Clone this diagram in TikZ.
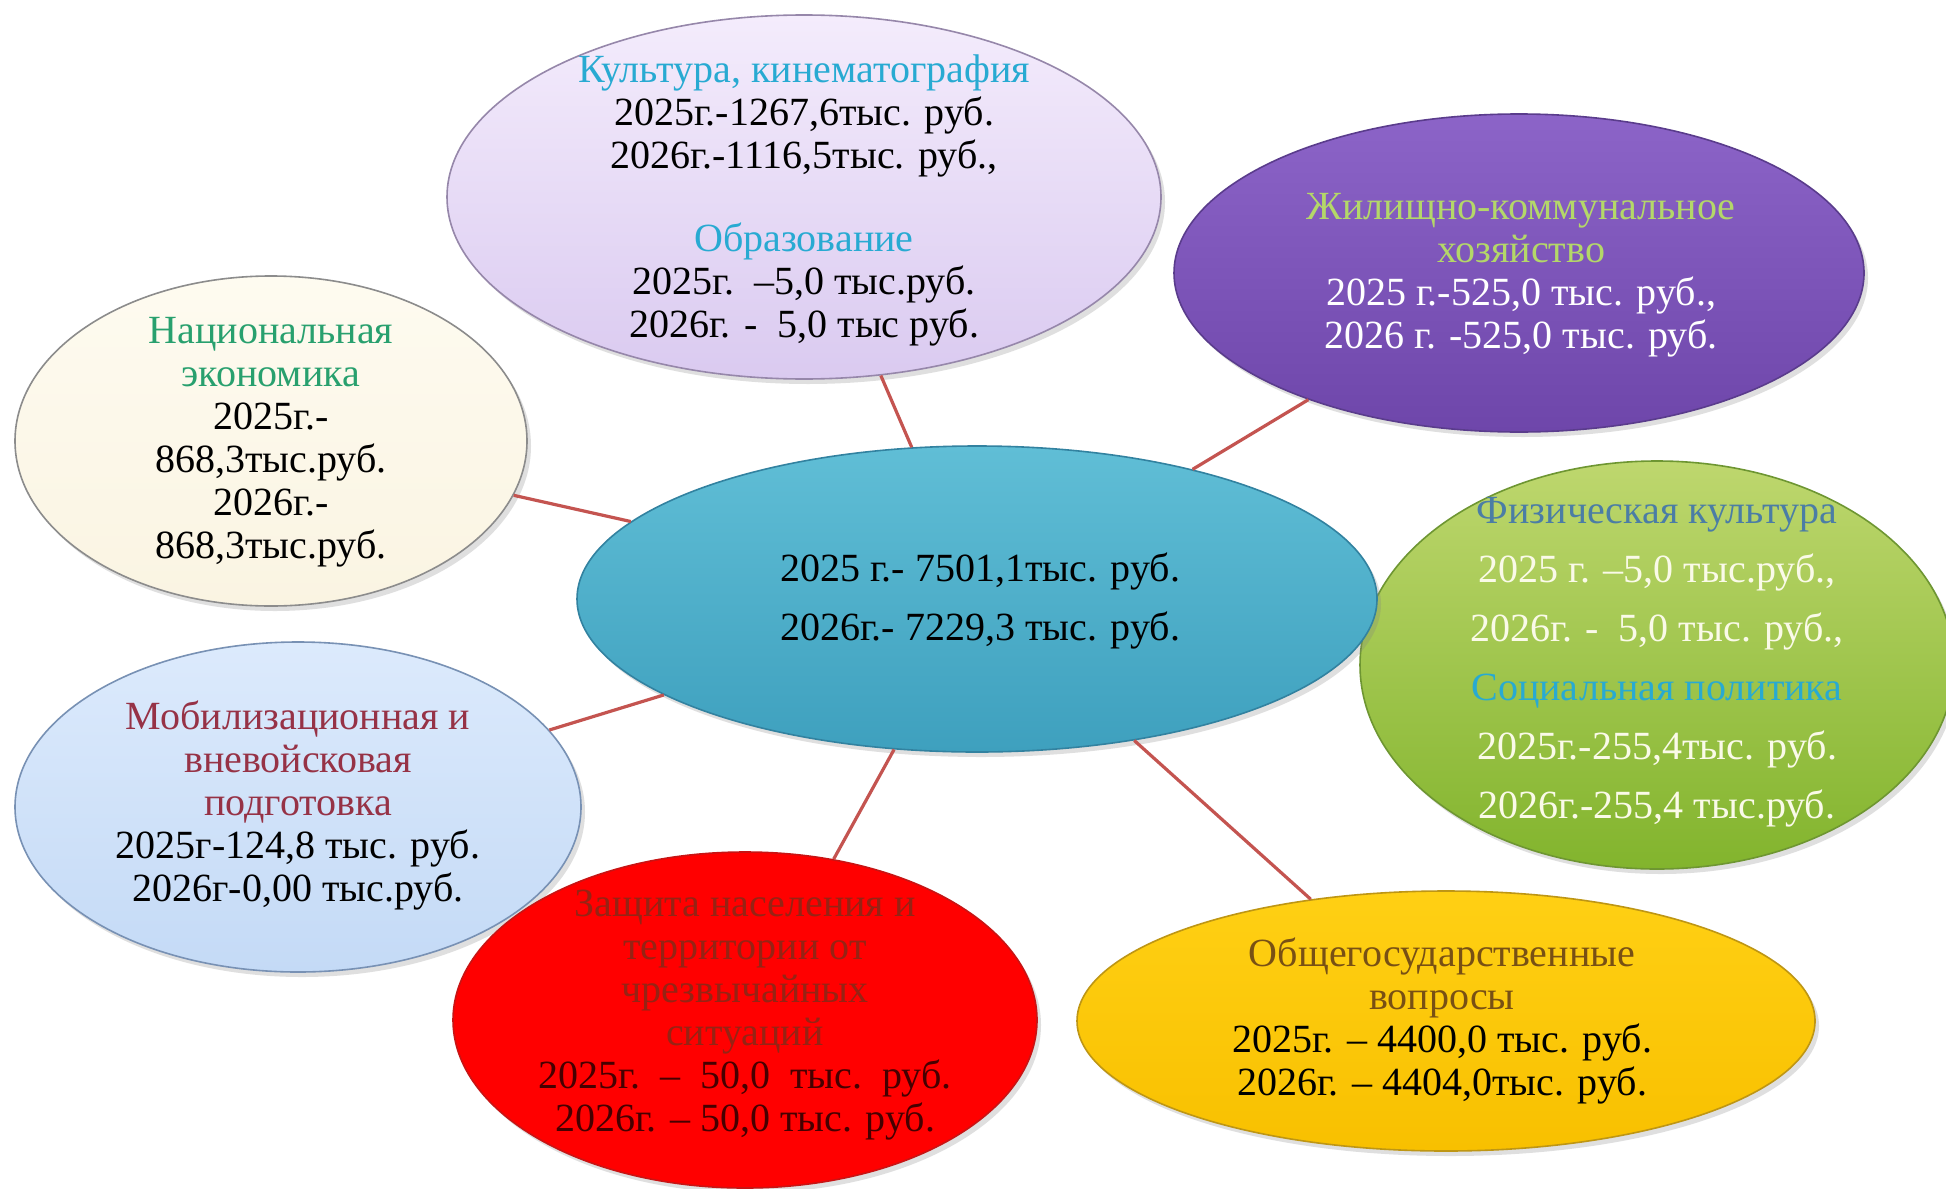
\documentclass[tikz,border=0pt]{standalone}
\usepackage{fontspec}
\setmainfont{Liberation Serif}
\usetikzlibrary{shapes.geometric,shadows}
\definecolor{linkred}{RGB}{196,84,80}
\definecolor{cenA}{RGB}{96,190,214}
\definecolor{cenB}{RGB}{62,160,190}
\definecolor{cenD}{RGB}{50,130,160}
\definecolor{lavA}{RGB}{244,236,252}
\definecolor{lavB}{RGB}{218,202,240}
\definecolor{lavD}{RGB}{150,135,170}
\definecolor{purA}{RGB}{140,100,200}
\definecolor{purB}{RGB}{110,70,170}
\definecolor{purD}{RGB}{90,60,140}
\definecolor{grnA}{RGB}{190,215,110}
\definecolor{grnB}{RGB}{130,180,45}
\definecolor{grnD}{RGB}{110,150,50}
\definecolor{creA}{RGB}{254,251,240}
\definecolor{creB}{RGB}{250,244,226}
\definecolor{creD}{RGB}{140,140,140}
\definecolor{bluA}{RGB}{220,234,252}
\definecolor{bluB}{RGB}{196,218,246}
\definecolor{bluD}{RGB}{120,145,180}
\definecolor{redF}{RGB}{255,0,0}
\definecolor{redD}{RGB}{200,20,20}
\definecolor{ylwA}{RGB}{255,208,20}
\definecolor{ylwB}{RGB}{248,192,0}
\definecolor{ylwD}{RGB}{190,150,20}
\definecolor{tcyan}{RGB}{40,170,210}
\definecolor{tlime}{RGB}{180,215,105}
\definecolor{tsteel}{RGB}{75,125,165}
\definecolor{tgreen}{RGB}{40,160,110}
\definecolor{twine}{RGB}{150,50,70}
\definecolor{tbrick}{RGB}{150,35,20}
\definecolor{tdark}{RGB}{70,0,0}
\definecolor{tbrown}{RGB}{120,80,20}
\definecolor{tcream}{RGB}{250,250,232}
\begin{document}
\begin{tikzpicture}[x=0.5pt,y=-0.5pt,
  bubble/.style={ellipse, inner sep=0pt, line width=0.8pt,
    drop shadow={opacity=0.25, shadow xshift=2pt, shadow yshift=-2.5pt}},
  label/.style={align=center, inner sep=0pt, font=\fontsize{20}{21.5}\selectfont},
  widelabel/.style={align=center, inner sep=0pt, font=\fontsize{20}{29.5}\selectfont},
  link/.style={draw=linkred, line width=1.6pt}]
\useasboundingbox (0,0) rectangle (1946,1188);
\fill[white] (0,0) rectangle (1946,1188);

% bubbles
\node[bubble, draw=creD, top color=creA, bottom color=creB, minimum width=256pt, minimum height=165pt] (nat) at (271,441) {};
\node[bubble, draw=bluD, top color=bluA, bottom color=bluB, minimum width=283pt, minimum height=165pt] (mob) at (298,807) {};
\node[bubble, draw=redD, fill=redF, minimum width=292pt, minimum height=168pt] (chs) at (745,1020) {};
\node[bubble, draw=lavD, top color=lavA, bottom color=lavB, minimum width=357pt, minimum height=182pt] (cult) at (804,197) {};
\node[bubble, draw=purD, top color=purA, bottom color=purB, minimum width=345pt, minimum height=159pt] (zkh) at (1519,273) {};
\node[bubble, draw=grnD, top color=grnA, bottom color=grnB, minimum width=297pt, minimum height=204pt] (fiz) at (1657,665) {};
\node[bubble, draw=cenD, top color=cenA, bottom color=cenB, minimum width=400pt, minimum height=153pt] (cen) at (977,599) {};
\node[bubble, draw=ylwD, top color=ylwA, bottom color=ylwB, minimum width=369pt, minimum height=130pt] (obs) at (1446,1021) {};

% connectors
\draw[link] (cen) -- (cult);
\draw[link] (cen) -- (zkh);
\draw[link] (cen) -- (nat);
\draw[link] (cen) -- (mob);
\draw[link] (cen) -- (chs);
\draw[link] (cen) -- (obs);

% texts
\node[widelabel] (tcen) at (980,601) {2025 г.- 7501,1тыс. руб.\\2026г.- 7229,3 тыс. руб.};
\node[label] (tcult) at (804,200) {{\color{tcyan}Культура, кинематография}\\
2025г.-1267,6тыс. руб.\\
2026г.-1116,5тыс. руб.,\\[20pt]
{\color{tcyan}Образование}\\
2025г.\ \ –5,0 тыс.руб.\\
2026г. -\ \ 5,0 тыс руб.};
\node[label, text=white] (tzkh) at (1521,275) {{\color{tlime}Жилищно-коммунальное}\\{\color{tlime}хозяйство}\\2025 г.-525,0 тыс. руб.,\\2026 г. -525,0 тыс. руб.};
\node[widelabel, text=tcream] (tfiz) at (1657,662) {{\color{tsteel}Физическая культура}\\
2025 г. –5,0 тыс.руб.,\\
2026г. -\ \ 5,0 тыс. руб.,\\
{\color{tcyan}Социальная политика}\\
2025г.-255,4тыс. руб.\\
2026г.-255,4 тыс.руб.};
\node[label] (tnat) at (271,442) {{\color{tgreen}Национальная}\\{\color{tgreen}экономика}\\2025г.-\\868,3тыс.руб.\\2026г.-\\868,3тыс.руб.};
\node[label] (tmob) at (298,805) {{\color{twine}Мобилизационная и}\\{\color{twine}вневойсковая}\\{\color{twine}подготовка}\\2025г-124,8 тыс. руб.\\2026г-0,00 тыс.руб.};
\node[label, text=tdark] (tchs) at (745,1015) {{\color{tbrick}Защита населения и}\\{\color{tbrick}территории от}\\{\color{tbrick}чрезвычайных}\\{\color{tbrick}ситуаций}\\2025г.\ \ –\ \ 50,0\ \ тыс.\ \ руб.\\2026г. – 50,0 тыс. руб.};
\node[label] (tobs) at (1442,1021) {{\color{tbrown}Общегосударственные}\\{\color{tbrown}вопросы}\\2025г. – 4400,0 тыс. руб.\\2026г. – 4404,0тыс. руб.};
\end{tikzpicture}
\end{document}
